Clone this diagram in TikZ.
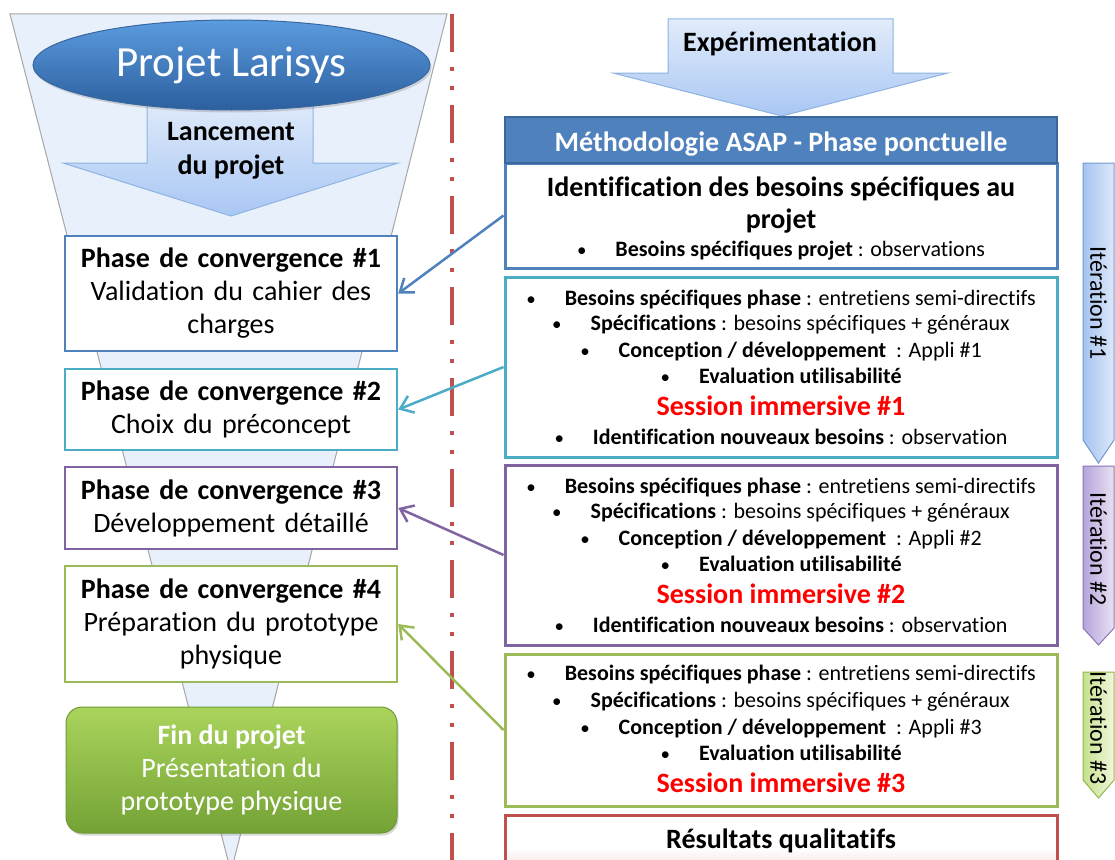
\documentclass[tikz,border=0pt]{standalone}
\usepackage{fontspec}
\setmainfont{Carlito}[Ligatures={NoCommon}]
\usetikzlibrary{arrows.meta,shapes.geometric,shadows}
\definecolor{cBlue}{HTML}{4F81BD}
\definecolor{cBlueD}{HTML}{3A679E}
\definecolor{cCyan}{HTML}{4BACC6}
\definecolor{cPurple}{HTML}{8064A2}
\definecolor{cGreen}{HTML}{9BBB59}
\definecolor{cRed}{HTML}{C0504D}
\definecolor{cFunnel}{HTML}{E8F1FB}
\definecolor{cArrTop}{HTML}{E2ECFA}
\definecolor{cArrBot}{HTML}{A9C7F4}
\definecolor{cArrLine}{HTML}{8DB3E2}
\definecolor{ellTop}{HTML}{5B9BDF}
\definecolor{ellBot}{HTML}{2C5F9E}
\definecolor{finLine}{HTML}{6E9A35}
\definecolor{finTop}{HTML}{AAD45C}
\definecolor{finBot}{HTML}{74A235}
\definecolor{resBot}{HTML}{F2D0CF}
\definecolor{chA}{HTML}{7299D0}
\definecolor{chAl}{HTML}{A6C3F0}
\definecolor{chAr}{HTML}{DDE8FA}
\definecolor{chB}{HTML}{8B74B8}
\definecolor{chBl}{HTML}{B6A4DA}
\definecolor{chBr}{HTML}{E8E2F2}
\definecolor{chC}{HTML}{92B74C}
\definecolor{chCl}{HTML}{C6E08C}
\definecolor{chCr}{HTML}{F0F7DC}
\newcommand\bline[4]{\node[bl] (#1) at (781,#2) {{\fontsize{19}{19}\selectfont\textbullet}\hspace{29pt}\textbf{#3}#4};}
\begin{document}
\begin{tikzpicture}[x=1pt,y=-1pt,
  lbox/.style={draw, fill=white, line width=2.5pt, minimum width=332pt, text width=325pt,
     align=center, inner sep=0pt, font=\fontsize{28}{33}\selectfont},
  rbox/.style={draw, fill=white, line width=3pt, minimum width=552pt, inner sep=0pt},
  bl/.style={anchor=base, inner sep=0pt, font=\fontsize{22}{26}\selectfont},
  big/.style={anchor=base, inner sep=0pt, font=\fontsize{28}{33}\selectfont\bfseries},
  downarrow/.style={draw=cArrLine, line width=1pt, top color=cArrTop, bottom color=cArrBot},
  chev/.style={line width=1pt},
  conn/.style={line width=2.5pt, -{Straight Barb[length=12pt,width=18pt]}},
  itlabel/.style={rotate=-90, inner sep=0pt, font=\fontsize{24}{28}\selectfont}]
\clip (0,0) rectangle (1115,859);
\fill[white] (0,0) rectangle (1115,859);

% funnel
\fill[cFunnel, draw=black!35, line width=1pt] (10,14) -- (447,14) -- (231,872) -- cycle;

% dash-dot-dot separator
\coordinate (dtop) at (452,14);
\coordinate (dbot) at (452,870);
\draw[cRed, line width=4pt, dash pattern=on 38pt off 15pt on 4pt off 15pt on 4pt off 15pt] (dtop) -- (dbot);

% Lancement arrow
\path[downarrow] (147,95) -- (313,95) -- (313,163) -- (398,163) -- (231,216) -- (63,163) -- (147,163) -- cycle;
\node[inner sep=0pt, align=center, font=\fontsize{28}{34}\selectfont\bfseries] (lanc) at (231,151) {Lancement\\du projet};

% ellipse
\node[ellipse, minimum width=397pt, minimum height=90pt, draw=cBlueD, line width=1pt,
      top color=ellTop, bottom color=ellBot,
      drop shadow={opacity=0.3, shadow xshift=1.5pt, shadow yshift=-2.5pt},
      font=\fontsize{43}{50}\selectfont, text=white] (proj) at (231.5,65) {Projet Larisys};

% left phase boxes
\node[lbox, draw=cBlue, minimum height=115pt] (p1) at (231,293.5) {\textbf{Phase de convergence \#1}\\Validation du cahier des\\charges};
\node[lbox, draw=cCyan, minimum height=81pt] (p2) at (231,409.5) {\textbf{Phase de convergence \#2}\\Choix du préconcept};
\node[lbox, draw=cPurple, minimum height=82pt] (p3) at (231,508) {\textbf{Phase de convergence \#3}\\Développement détaillé};
\node[lbox, draw=cGreen, minimum height=116pt] (p4) at (231,624) {\textbf{Phase de convergence \#4}\\Préparation du prototype\\physique};

% fin du projet
\node[draw=finLine, line width=1pt, rounded corners=16pt, minimum width=331pt, minimum height=126pt,
      top color=finTop, bottom color=finBot, text=white, align=center,
      drop shadow={opacity=0.3, shadow xshift=1.5pt, shadow yshift=-2.5pt},
      font=\fontsize{28}{33}\selectfont, inner sep=0pt] (fin) at (231.5,770) {\textbf{Fin du projet}\\Présentation du\\prototype physique};

% Expérimentation arrow
\path[downarrow] (668,19) -- (893,19) -- (893,73) -- (948,73) -- (782,116) -- (613,73) -- (668,73) -- cycle;
\node[big] (exp) at (780,52) {Expérimentation};

% right boxes
\node[rbox, draw=cBlue, minimum height=105pt] (ident) at (781,215.5) {};
\node[rbox, draw=cBlueD, fill=cBlue, line width=2pt, minimum height=46pt] (head) at (781,140) {};
\node[big, text=white] (headt) at (781,151) {Méthodologie ASAP - Phase ponctuelle};
\node[big] (id1) at (781,196) {Identification des besoins spécifiques au};
\node[big] (id2) at (781,228) {projet};
\bline{id3}{256}{Besoins spécifiques projet}{ : observations}

\node[rbox, draw=cCyan, minimum height=180pt] (it1) at (781,367) {};
\bline{a1}{305}{Besoins spécifiques phase}{ : entretiens semi-directifs}
\bline{a2}{330}{Spécifications}{ : besoins spécifiques + généraux}
\bline{a3}{357}{Conception / développement}{\hspace{10pt}: Appli \#1}
\bline{a4}{383}{Evaluation utilisabilité}{}
\node[big, text=red] (a5) at (781,415) {Session immersive \#1};
\bline{a6}{444}{Identification nouveaux besoins}{ : observation}

\node[rbox, draw=cPurple, minimum height=180pt] (it2) at (781,555) {};
\bline{b1}{493}{Besoins spécifiques phase}{ : entretiens semi-directifs}
\bline{b2}{518}{Spécifications}{ : besoins spécifiques + généraux}
\bline{b3}{545}{Conception / développement}{\hspace{10pt}: Appli \#2}
\bline{b4}{571}{Evaluation utilisabilité}{}
\node[big, text=red] (b5) at (781,603) {Session immersive \#2};
\bline{b6}{632}{Identification nouveaux besoins}{ : observation}

\node[rbox, draw=cGreen, minimum height=152pt] (it3) at (781,730) {};
\bline{c1}{680}{Besoins spécifiques phase}{ : entretiens semi-directifs}
\bline{c2}{707}{Spécifications}{ : besoins spécifiques + généraux}
\bline{c3}{734}{Conception / développement}{\hspace{10pt}: Appli \#3}
\bline{c4}{760}{Evaluation utilisabilité}{}
\node[big, text=red] (c5) at (781,792) {Session immersive \#3};

\node[rbox, draw=cRed, minimum height=66pt, top color=white, bottom color=resBot, middle color=white] (res) at (781,848) {};
\node[big] (rest) at (781,848) {Résultats qualitatifs};

% iteration chevrons
\path[chev, draw=chA, left color=chAl, right color=chAr] (1083,163) -- (1114,163) -- (1114,440) -- (1098.5,463) -- (1083,440) -- cycle;
\node[itlabel] (i1) at (1098.5,303) {Itération \#1};
\path[chev, draw=chB, left color=chBl, right color=chBr] (1083,466) -- (1114,466) -- (1114,628) -- (1098.5,645) -- (1083,628) -- cycle;
\node[itlabel] (i2) at (1098.5,549) {Itération \#2};
\path[chev, draw=chC, left color=chCl, right color=chCr] (1083,672) -- (1114,672) -- (1114,780) -- (1098.5,798) -- (1083,780) -- cycle;
\node[itlabel] (i3) at (1098.5,728) {Itération \#3};

% connectors
\draw[conn, cBlue] (ident.west) -- (p1.east);
\draw[conn, cCyan] (it1.west) -- (p2.east);
\draw[conn, cPurple] (it2.west) -- (p3.east);
\draw[conn, cGreen] (it3.west) -- (p4.east);
\end{tikzpicture}
\end{document}
